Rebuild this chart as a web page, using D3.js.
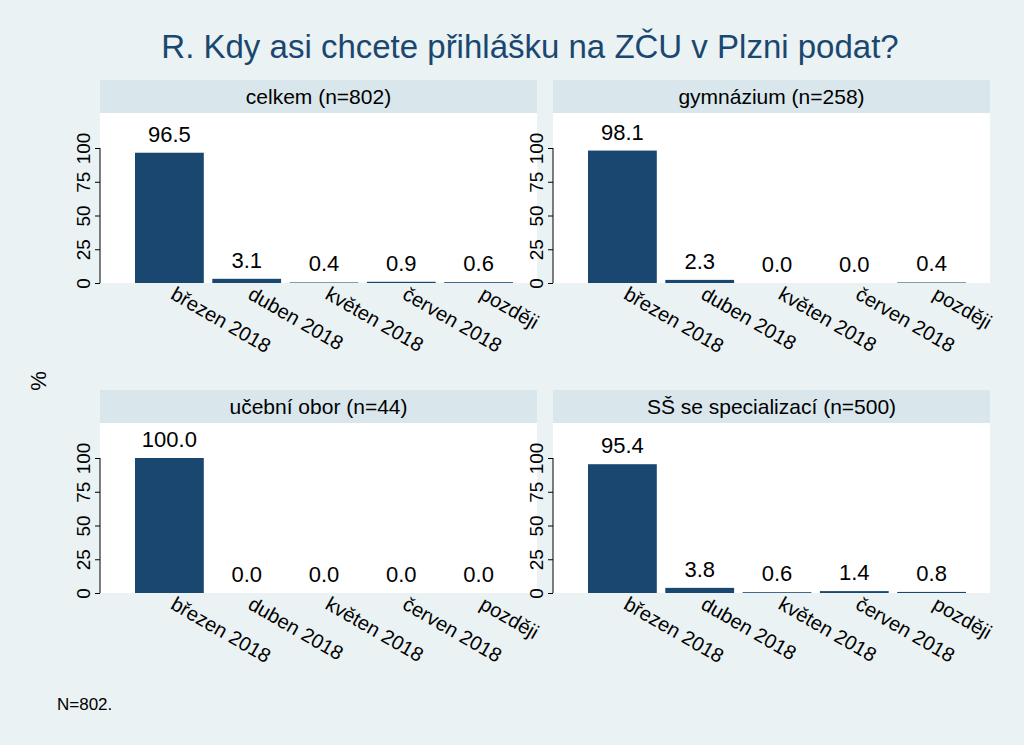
<!DOCTYPE html><html><head><meta charset="utf-8"><script src="https://cdn.jsdelivr.net/npm/d3@7"></script>
<style>body{margin:0}</style></head><body><script>
const categories=["březen 2018","duben 2018","květen 2018","červen 2018","později"];
const panelTitles=["celkem (n=802)","gymnázium (n=258)","učební obor (n=44)","SŠ se specializací (n=500)"];
const celkem=[96.5,3.1,0.4,0.9,0.6];
const gymnazium=[98.1,2.3,0.0,0.0,0.4];
const ucebni=[100.0,0.0,0.0,0.0,0.0];
const specializace=[95.4,3.8,0.6,1.4,0.8];
const yTicks=[0,25,50,75,100];
const series=[celkem,gymnazium,ucebni,specializace];
const W=1024,H=745;
const svg=d3.select("body").append("svg").attr("width",W).attr("height",H).style("font-family","Liberation Sans, Arial, sans-serif");
svg.append("rect").attr("width",W).attr("height",H).attr("fill","#eaf2f3");
svg.append("text").attr("x",530).attr("y",58).attr("text-anchor","middle").attr("font-size",33).attr("fill","#1a476f").text("R. Kdy asi chcete přihlášku na ZČU v Plzni podat?");
svg.append("text").attr("transform","translate(46,381) rotate(-90)").attr("text-anchor","middle").attr("font-size",22).text("%");
svg.append("text").attr("x",57).attr("y",710).attr("font-size",17).text("N=802.");
const panels=[{x:100,y:80},{x:553,y:80},{x:100,y:390},{x:553,y:390}];
panels.forEach((p,i)=>{
  const g=svg.append("g").attr("transform",`translate(${p.x},${p.y})`);
  const pw=437, hh=33, ph=170;
  g.append("rect").attr("width",pw).attr("height",hh).attr("fill","#d9e6eb");
  g.append("text").attr("x",pw/2).attr("y",24).attr("text-anchor","middle").attr("font-size",21).text(panelTitles[i]);
  g.append("rect").attr("y",hh).attr("width",pw).attr("height",ph).attr("fill","#fff");
  const y=d3.scaleLinear().domain([0,100]).range([hh+ph,hh+ph-135]);
  const x=d3.scaleBand().domain(categories).range([35,413]).paddingInner(0.11).paddingOuter(0);
  const ax=g.append("g").call(d3.axisLeft(y).tickValues(yTicks).tickSize(5).tickSizeOuter(0));
  ax.select(".domain").remove();
  ax.selectAll("text").attr("font-size",19).attr("fill","#000").attr("transform","rotate(-90)").attr("text-anchor","middle").attr("x",0).attr("dx",0).attr("y",-10).attr("dy",0);
  ax.selectAll("line").attr("stroke","#000");
  g.append("line").attr("x1",0).attr("x2",0).attr("y1",y(0)).attr("y2",y(100)).attr("stroke","#000");
  g.selectAll(".bar").data(series[i]).enter().append("rect").attr("x",(d,j)=>x(categories[j])).attr("width",x.bandwidth()).attr("y",d=>y(d)).attr("height",d=>y(0)-y(d)).attr("fill","#1a476f");
  g.selectAll(".val").data(series[i]).enter().append("text").attr("x",(d,j)=>x(categories[j])+x.bandwidth()/2).attr("y",d=>y(d)-11).attr("text-anchor","middle").attr("font-size",22).text(d=>d.toFixed(1));
  g.selectAll(".cat").data(categories).enter().append("text").attr("transform",c=>`translate(${x(c)+x.bandwidth()/2},${y(0)+15}) rotate(30)`).attr("font-size",20).text(c=>c);
});
</script></body></html>
